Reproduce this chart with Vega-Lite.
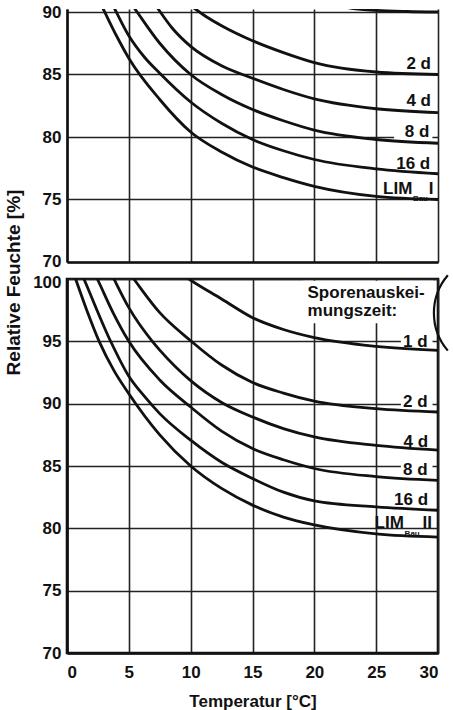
{
  "$schema": "https://vega.github.io/schema/vega-lite/v6.json",
  "padding": {"left": 4, "top": 2, "right": 0, "bottom": 0},
  "bounds": "flush",
  "spacing": 17,
  "config": {
    "view": {"stroke": null},
    "font": "Liberation Sans",
    "axis": {
      "labelFont": "Liberation Sans", "labelFontSize": 17, "labelFontWeight": "bold", "labelColor": "#111",
      "titleFont": "Liberation Sans", "titleFontSize": 17, "titleFontWeight": "bold", "titleColor": "#111",
      "ticks": false, "tickSize": 0, "grid": true, "gridColor": "#222", "gridWidth": 1.6, "gridOpacity": 1,
      "domainColor": "#111", "domainWidth": 2.6
    },
    "text": {"font": "Liberation Sans", "fontWeight": "bold", "fontSize": 17, "color": "#111"}
  },
  "datasets": {
    "curvesTop": [
      {"s": "LIM", "t": 2.4, "rh": 91.3}, {"s": "LIM", "t": 2.9, "rh": 90.3}, {"s": "LIM", "t": 4, "rh": 88.1}, {"s": "LIM", "t": 5, "rh": 86.3}, {"s": "LIM", "t": 7.5, "rh": 83.0}, {"s": "LIM", "t": 10, "rh": 80.4}, {"s": "LIM", "t": 12.5, "rh": 78.8}, {"s": "LIM", "t": 15, "rh": 77.6}, {"s": "LIM", "t": 17.5, "rh": 76.75}, {"s": "LIM", "t": 20, "rh": 76.05}, {"s": "LIM", "t": 25, "rh": 75.25}, {"s": "LIM", "t": 30, "rh": 75.0},
      {"s": "16d", "t": 3.3, "rh": 91.3}, {"s": "16d", "t": 3.83, "rh": 90.3}, {"s": "16d", "t": 5, "rh": 88.1}, {"s": "16d", "t": 6.25, "rh": 86.4}, {"s": "16d", "t": 7.5, "rh": 85.1}, {"s": "16d", "t": 10, "rh": 82.8}, {"s": "16d", "t": 12.5, "rh": 81.1}, {"s": "16d", "t": 15, "rh": 79.8}, {"s": "16d", "t": 17.5, "rh": 78.9}, {"s": "16d", "t": 20, "rh": 78.2}, {"s": "16d", "t": 25, "rh": 77.45}, {"s": "16d", "t": 30, "rh": 77.06},
      {"s": "8d", "t": 4.9, "rh": 91.05}, {"s": "8d", "t": 5.45, "rh": 90.3}, {"s": "8d", "t": 7.5, "rh": 87.5}, {"s": "8d", "t": 10, "rh": 85.0}, {"s": "8d", "t": 12.5, "rh": 83.4}, {"s": "8d", "t": 15, "rh": 82.2}, {"s": "8d", "t": 17.5, "rh": 81.3}, {"s": "8d", "t": 20, "rh": 80.55}, {"s": "8d", "t": 25, "rh": 79.8}, {"s": "8d", "t": 30, "rh": 79.5},
      {"s": "4d", "t": 6.8, "rh": 91.05}, {"s": "4d", "t": 7.33, "rh": 90.3}, {"s": "4d", "t": 8.5, "rh": 88.72}, {"s": "4d", "t": 10, "rh": 87.25}, {"s": "4d", "t": 12.5, "rh": 85.7}, {"s": "4d", "t": 15, "rh": 84.7}, {"s": "4d", "t": 17.5, "rh": 83.8}, {"s": "4d", "t": 20, "rh": 83.05}, {"s": "4d", "t": 25, "rh": 82.26}, {"s": "4d", "t": 30, "rh": 81.95},
      {"s": "2d", "t": 9.7, "rh": 90.75}, {"s": "2d", "t": 10.3, "rh": 90.3}, {"s": "2d", "t": 11.3, "rh": 89.6}, {"s": "2d", "t": 12.5, "rh": 88.9}, {"s": "2d", "t": 15, "rh": 87.7}, {"s": "2d", "t": 17.5, "rh": 86.75}, {"s": "2d", "t": 20, "rh": 85.95}, {"s": "2d", "t": 25, "rh": 85.2}, {"s": "2d", "t": 30, "rh": 85.0},
      {"s": "1d", "t": 20.5, "rh": 90.8}, {"s": "1d", "t": 23, "rh": 90.3}, {"s": "1d", "t": 25, "rh": 90.13}, {"s": "1d", "t": 27.5, "rh": 90.04}, {"s": "1d", "t": 30, "rh": 90.0}
    ],
    "curvesBottom": [
      {"s": "LIM", "t": 0.35, "rh": 101.0}, {"s": "LIM", "t": 0.7, "rh": 100}, {"s": "LIM", "t": 1.6, "rh": 97.5}, {"s": "LIM", "t": 2.6, "rh": 95}, {"s": "LIM", "t": 3.8, "rh": 92.65}, {"s": "LIM", "t": 5, "rh": 90.8}, {"s": "LIM", "t": 7.5, "rh": 87.5}, {"s": "LIM", "t": 10, "rh": 85.0}, {"s": "LIM", "t": 12.5, "rh": 83.2}, {"s": "LIM", "t": 15, "rh": 81.86}, {"s": "LIM", "t": 17.5, "rh": 80.9}, {"s": "LIM", "t": 20, "rh": 80.27}, {"s": "LIM", "t": 25, "rh": 79.55}, {"s": "LIM", "t": 30, "rh": 79.3},
      {"s": "16d", "t": 1.0, "rh": 100.85}, {"s": "16d", "t": 1.37, "rh": 100}, {"s": "16d", "t": 3.53, "rh": 95}, {"s": "16d", "t": 5, "rh": 92.2}, {"s": "16d", "t": 6.25, "rh": 90.6}, {"s": "16d", "t": 7.5, "rh": 89.2}, {"s": "16d", "t": 10, "rh": 87.07}, {"s": "16d", "t": 12.5, "rh": 85.3}, {"s": "16d", "t": 15, "rh": 84.0}, {"s": "16d", "t": 17.5, "rh": 82.9}, {"s": "16d", "t": 20, "rh": 82.2}, {"s": "16d", "t": 25, "rh": 81.72}, {"s": "16d", "t": 30, "rh": 81.45},
      {"s": "8d", "t": 2.0, "rh": 100.9}, {"s": "8d", "t": 2.45, "rh": 100}, {"s": "8d", "t": 3.7, "rh": 97.35}, {"s": "8d", "t": 5, "rh": 95}, {"s": "8d", "t": 7.5, "rh": 91.9}, {"s": "8d", "t": 10, "rh": 89.73}, {"s": "8d", "t": 12.5, "rh": 87.8}, {"s": "8d", "t": 15, "rh": 86.4}, {"s": "8d", "t": 17.5, "rh": 85.5}, {"s": "8d", "t": 20, "rh": 84.8}, {"s": "8d", "t": 25, "rh": 84.15}, {"s": "8d", "t": 30, "rh": 83.85},
      {"s": "4d", "t": 3.3, "rh": 101.0}, {"s": "4d", "t": 3.8, "rh": 100}, {"s": "4d", "t": 5, "rh": 97.7}, {"s": "4d", "t": 6.9, "rh": 95}, {"s": "4d", "t": 7.5, "rh": 94.3}, {"s": "4d", "t": 10, "rh": 91.85}, {"s": "4d", "t": 12.5, "rh": 90.1}, {"s": "4d", "t": 15, "rh": 88.93}, {"s": "4d", "t": 17.5, "rh": 88.0}, {"s": "4d", "t": 20, "rh": 87.33}, {"s": "4d", "t": 25, "rh": 86.65}, {"s": "4d", "t": 30, "rh": 86.27},
      {"s": "2d", "t": 4.8, "rh": 100.8}, {"s": "2d", "t": 5.4, "rh": 100}, {"s": "2d", "t": 7.5, "rh": 97.3}, {"s": "2d", "t": 10, "rh": 95.05}, {"s": "2d", "t": 12.5, "rh": 93.1}, {"s": "2d", "t": 15, "rh": 91.7}, {"s": "2d", "t": 17.5, "rh": 90.85}, {"s": "2d", "t": 20, "rh": 90.2}, {"s": "2d", "t": 25, "rh": 89.6}, {"s": "2d", "t": 30, "rh": 89.33},
      {"s": "1d", "t": 9.0, "rh": 100.6}, {"s": "1d", "t": 9.86, "rh": 100}, {"s": "1d", "t": 12.5, "rh": 98.4}, {"s": "1d", "t": 15, "rh": 96.9}, {"s": "1d", "t": 17.5, "rh": 95.95}, {"s": "1d", "t": 20, "rh": 95.3}, {"s": "1d", "t": 25, "rh": 94.6}, {"s": "1d", "t": 30, "rh": 94.27}
    ],
    "boxesTop": [
      {"t": 26.45, "t2": 29.55, "rh": 79.85, "rh2": 81.1}
    ],
    "boxesBottom": [
      {"t": 19.1, "t2": 29.6, "rh": 96.45, "rh2": 99.85},
      {"t": 27.0, "t2": 29.56, "rh": 94.4, "rh2": 95.9},
      {"t": 27.0, "t2": 29.56, "rh": 89.6, "rh2": 91.1},
      {"t": 27.0, "t2": 29.56, "rh": 84.15, "rh2": 85.6}
    ],
    "labelsTopRight": [
      {"label": "2 d", "t": 29.43, "rh": 85.42},
      {"label": "4 d", "t": 29.43, "rh": 82.48},
      {"label": "8 d", "t": 29.3, "rh": 80.02},
      {"label": "16 d", "t": 29.37, "rh": 77.46},
      {"label": "LIM", "t": 27.93, "rh": 75.46}
    ],
    "labelsTopLeft": [
      {"label": "I", "t": 29.25, "rh": 75.46}
    ],
    "subTop": [
      {"label": "Bau", "t": 27.97, "rh": 74.92}
    ],
    "labelsBottomRight": [
      {"label": "1 d", "t": 29.16, "rh": 94.55},
      {"label": "2 d", "t": 29.16, "rh": 89.73},
      {"label": "4 d", "t": 29.2, "rh": 86.53},
      {"label": "8 d", "t": 29.16, "rh": 84.27},
      {"label": "16 d", "t": 29.2, "rh": 81.87},
      {"label": "LIM", "t": 27.24, "rh": 80.0}
    ],
    "labelsBottomLeft": [
      {"label": "Sporenauskei-", "t": 19.45, "rh": 98.5},
      {"label": "mungszeit:", "t": 19.45, "rh": 97.0},
      {"label": "II", "t": 28.74, "rh": 80.0}
    ],
    "subBottom": [
      {"label": "Bau", "t": 27.3, "rh": 79.4}
    ],
    "circle": [
      {"t": 34.36, "rh": 97.28}
    ]
  },
  "vconcat": [
    {
      "width": 371,
      "height": 253,
      "encoding": {
        "x": {"field": "t", "type": "quantitative", "scale": {"domain": [0, 30], "nice": false, "zero": false},
              "axis": {"values": [0, 5, 10, 15, 20, 25, 30], "labels": false, "title": null}},
        "y": {"field": "rh", "type": "quantitative", "scale": {"domain": [70, 90.24], "nice": false, "zero": false},
              "axis": {"values": [70, 75, 80, 85, 90], "labelPadding": 6,
                       "labelOffset": {"condition": {"test": "datum.value === 70", "value": -1}, "value": 0},
                       "title": "Relative Feuchte [%]",
                       "titleX": -54, "titleY": 273, "titleAngle": -90, "titleAlign": "center", "titleBaseline": "middle", "titleFontSize": 19}}
      },
      "layer": [
        {"data": {"name": "boxesTop"}, "mark": {"type": "rect", "color": "white"},
         "encoding": {"x2": {"field": "t2"}, "y2": {"field": "rh2"}}},
        {"data": {"name": "curvesTop"}, "mark": {"type": "line", "interpolate": "monotone", "clip": true, "color": "#111", "strokeWidth": 2.8},
         "encoding": {"detail": {"field": "s"}}},
        {"data": {"name": "labelsTopRight"}, "mark": {"type": "text", "align": "right", "baseline": "alphabetic"},
         "encoding": {"text": {"field": "label"}}},
        {"data": {"name": "labelsTopLeft"}, "mark": {"type": "text", "align": "left", "baseline": "alphabetic"},
         "encoding": {"text": {"field": "label"}}},
        {"data": {"name": "subTop"}, "mark": {"type": "text", "align": "left", "baseline": "alphabetic", "fontSize": 8},
         "encoding": {"text": {"field": "label"}}}
      ]
    },
    {
      "width": 371,
      "height": 374,
      "view": {"stroke": "#111", "strokeWidth": 2.6},
      "encoding": {
        "x": {"field": "t", "type": "quantitative", "scale": {"domain": [0, 30], "nice": false, "zero": false},
              "axis": {"values": [0, 5, 10, 15, 20, 25, 30], "labelPadding": 11, "title": "Temperatur [°C]", "titlePadding": 13}},
        "y": {"field": "rh", "type": "quantitative", "scale": {"domain": [70, 100], "nice": false, "zero": false},
              "axis": {"values": [70, 75, 80, 85, 90, 95, 100], "labelPadding": 6,
                       "labelOffset": {"condition": {"test": "datum.value === 100", "value": 3}, "value": 0},
                       "title": null}}
      },
      "layer": [
        {"data": {"name": "boxesBottom"}, "mark": {"type": "rect", "color": "white"},
         "encoding": {"x2": {"field": "t2"}, "y2": {"field": "rh2"}}},
        {"data": {"name": "curvesBottom"}, "mark": {"type": "line", "interpolate": "monotone", "clip": true, "color": "#111", "strokeWidth": 2.8},
         "encoding": {"detail": {"field": "s"}}},
        {"data": {"name": "labelsBottomRight"}, "mark": {"type": "text", "align": "right", "baseline": "alphabetic"},
         "encoding": {"text": {"field": "label"}}},
        {"data": {"name": "labelsBottomLeft"}, "mark": {"type": "text", "align": "left", "baseline": "alphabetic"},
         "encoding": {"text": {"field": "label"}}},
        {"data": {"name": "subBottom"}, "mark": {"type": "text", "align": "left", "baseline": "alphabetic", "fontSize": 8},
         "encoding": {"text": {"field": "label"}}},
        {"data": {"name": "circle"}, "mark": {"type": "point", "shape": "M -0.76 -0.65 A 1 1 0 0 0 -0.76 0.65", "size": 13456, "filled": false, "fill": null, "stroke": "#111", "strokeWidth": 2.2, "opacity": 1, "clip": false}}
      ]
    }
  ]
}
